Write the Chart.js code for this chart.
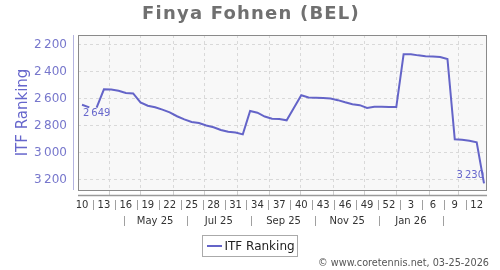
<!DOCTYPE html>
<html>
<head>
<meta charset="utf-8">
<script src="https://cdn.jsdelivr.net/npm/chart.js@4.4.1/dist/chart.umd.min.js"></script>
<style>
  html, body { margin: 0; padding: 0; background: #fff; }
  #wrap { width: 500px; height: 270px; }
</style>
</head>
<body>
<div id="wrap"><canvas id="rankChart" width="500" height="270"></canvas></div>
<script>
// ISO weeks, week 10 of 2025 to week 13 of 2026
const weeks = [10, 11, 12, 13, 14, 15, 16, 17, 18, 19, 20, 21, 22, 23, 24, 25, 26, 27, 28, 29,
  30, 31, 32, 33, 34, 35, 36, 37, 38, 39, 40, 41, 42, 43, 44, 45, 46, 47, 48, 49, 50, 51, 52,
  1, 2, 3, 4, 5, 6, 7, 8, 9, 10, 11, 12, 13];

const ranking = [2649, 2668, 2671, 2535, 2537, 2545, 2562, 2565, 2632, 2656,
  2668, 2685, 2705, 2734, 2757, 2776, 2784, 2802, 2815, 2835,
  2848, 2854, 2868, 2695, 2708, 2736, 2752, 2754, 2764, 2672,
  2579, 2595, 2598, 2600, 2603, 2615, 2631, 2645, 2652, 2672,
  2664, 2664, 2666, 2666, 2276, 2276, 2284, 2290, 2293, 2296,
  2311, 2904, 2908, 2915, 2926, 3230];

// line is broken after these points (no ranking in between)
const gapAfter = [1];

const yTicks = [2200, 2400, 2600, 2800, 3000, 3200];
const weekLabelStep = 3;

// month axis: grid on the 1st of each month, labels every two months
const monthGrid = [[2025, 4], [2025, 5], [2025, 6], [2025, 7], [2025, 8], [2025, 9],
  [2025, 10], [2025, 11], [2025, 12], [2026, 1], [2026, 2], [2026, 3]];
const monthLabels = ['May 25', 'Jul 25', 'Sep 25', 'Nov 25', 'Jan 26'];
const monthLabelAt = [[2025, 5], [2025, 7], [2025, 9], [2025, 11], [2026, 1]];
const monthSepAt = [[2025, 4], [2025, 6], [2025, 8], [2025, 10], [2025, 12], [2026, 2]];

const playerName = 'Finya Fohnen (BEL)';
const seriesName = 'ITF Ranking';
const footer = '\u00a9 www.coretennis.net, 03-25-2026';

const lineColor = '#6464c8';
const firstDate = Date.UTC(2025, 2, 6); // thursday of week 10
const toIdx = (y, m, d) => (Date.UTC(y, m - 1, d) - firstDate) / 6048e5;
const fmt = v => String(v).replace(/\B(?=(\d{3})+(?!\d))/g, '\u2009');

function vline(ctx, x, y1, y2) {
  ctx.beginPath(); ctx.moveTo(x, y1); ctx.lineTo(x, y2); ctx.stroke();
}
function hline(ctx, x1, x2, y) {
  ctx.beginPath(); ctx.moveTo(x1, y); ctx.lineTo(x2, y); ctx.stroke();
}

const decor = {
  id: 'decor',
  beforeDatasetsDraw(chart) {
    const { ctx, chartArea: a, scales: { x, y } } = chart;
    ctx.save();
    ctx.fillStyle = '#f8f8f8';
    ctx.fillRect(a.left, a.top, a.right - a.left, a.bottom - a.top);

    // dashed grid
    ctx.strokeStyle = '#d9d9d9';
    ctx.lineWidth = 1;
    ctx.setLineDash([3, 3]);
    yTicks.forEach(v => {
      const py = Math.round(y.getPixelForValue(v)) + 0.5;
      hline(ctx, a.left, a.right, py);
    });
    monthGrid.forEach(([yy, mm]) => {
      const px = Math.round(x.getPixelForValue(toIdx(yy, mm, 1))) + 0.5;
      vline(ctx, px, a.top, a.bottom);
    });
    ctx.setLineDash([]);
    ctx.strokeStyle = '#cfcfcf';
    monthGrid.forEach(([yy, mm]) => {
      const px = Math.round(x.getPixelForValue(toIdx(yy, mm, 1))) + 0.5;
      vline(ctx, px, a.bottom, a.bottom + 5);
    });

    // frame
    ctx.strokeStyle = '#8a8a8a';
    ctx.strokeRect(a.left + 0.5, a.top + 0.5, a.right - a.left - 1, a.bottom - a.top);

    // y axis line
    ctx.strokeStyle = '#b4b4e0';
    vline(ctx, a.left - 4.5, a.top, a.bottom);

    // x axis line
    ctx.strokeStyle = '#9a9a9a';
    ctx.lineWidth = 1.5;
    hline(ctx, a.left, a.right, a.bottom + 5.5);
    ctx.restore();
  },
  afterDatasetsDraw(chart) {
    const { ctx, chartArea: a, scales: { x, y } } = chart;
    ctx.save();

    // title
    ctx.fillStyle = '#707070';
    ctx.font = 'bold 18px "DejaVu Sans"';
    ctx.letterSpacing = '1.2px';
    ctx.textAlign = 'center';
    ctx.textBaseline = 'alphabetic';
    ctx.fillText(playerName, 251, 19);
    ctx.letterSpacing = '0px';

    // y axis title
    ctx.save();
    ctx.translate(26.5, (a.top + a.bottom) / 2);
    ctx.rotate(-Math.PI / 2);
    ctx.fillStyle = '#6666cc';
    ctx.font = '15px "DejaVu Sans"';
    ctx.fillText(seriesName, 0, 0);
    ctx.restore();

    // y tick labels
    ctx.fillStyle = '#7777cc';
    ctx.font = '12px "DejaVu Sans"';
    ctx.textAlign = 'right';
    ctx.textBaseline = 'middle';
    yTicks.forEach(v => ctx.fillText(fmt(v), 67, y.getPixelForValue(v) + 0.5));

    // week labels
    ctx.fillStyle = '#333';
    ctx.font = '10px "DejaVu Sans"';
    ctx.textAlign = 'center';
    ctx.strokeStyle = '#a0a0a0';
    ctx.lineWidth = 1;
    for (let i = 0; i < weeks.length; i += weekLabelStep) {
      ctx.fillText(String(weeks[i]), x.getPixelForValue(i), 205);
      if (i + weekLabelStep < weeks.length) {
        const sx = Math.round(x.getPixelForValue(i + weekLabelStep / 2)) + 0.5;
        vline(ctx, sx, 200, 210);
      }
    }

    // month labels
    monthLabels.forEach((t, k) => {
      const [yy, mm] = monthLabelAt[k];
      ctx.fillText(t, x.getPixelForValue(toIdx(yy, mm, 15)), 221.5);
    });
    monthSepAt.forEach(([yy, mm]) => {
      const sx = Math.round(x.getPixelForValue(toIdx(yy, mm, 15))) + 0.5;
      vline(ctx, sx, 216, 226);
    });

    // point labels on first and last value
    const pts = chart.getDatasetMeta(0).data;
    const last = ranking.length - 1;
    ctx.fillStyle = '#6666cc';
    ctx.font = '10px "DejaVu Sans"';
    ctx.textAlign = 'left';
    ctx.fillText(fmt(ranking[0]), pts[0].x + 1, pts[0].y + 9);
    ctx.textAlign = 'right';
    ctx.fillText(fmt(ranking[last]), pts[last].x, pts[last].y - 8);

    // legend
    ctx.fillStyle = '#fff';
    ctx.fillRect(202.5, 235.5, 95, 21);
    ctx.strokeStyle = '#aaa';
    ctx.strokeRect(202.5, 235.5, 95, 21);
    ctx.strokeStyle = lineColor;
    ctx.lineWidth = 2;
    hline(ctx, 207, 222, 246);
    ctx.fillStyle = '#222';
    ctx.font = '12px "DejaVu Sans"';
    ctx.textAlign = 'left';
    ctx.fillText(seriesName, 224.5, 246.5);

    // footer
    ctx.fillStyle = '#555';
    ctx.font = '9.7px "DejaVu Sans"';
    ctx.textAlign = 'right';
    ctx.fillText(footer, 489, 263.5);
    ctx.restore();
  }
};

const ctx = document.getElementById('rankChart').getContext('2d');
new Chart(ctx, {
  type: 'line',
  data: {
    datasets: [{
      label: seriesName,
      data: ranking.map((v, i) => ({ x: i, y: v })),
      borderColor: lineColor,
      borderWidth: 2,
      pointRadius: 0,
      tension: 0,
      fill: false,
      clip: false,
      segment: {
        borderColor: c => gapAfter.includes(c.p0DataIndex) ? 'rgba(0,0,0,0)' : undefined
      }
    }]
  },
  options: {
    responsive: false,
    animation: false,
    layout: { padding: { left: 78, right: 13, top: 35, bottom: 80 } },
    scales: {
      x: { type: 'linear', display: false, min: -0.547, max: 55.41 },
      y: { type: 'linear', display: false, reverse: true, min: 2133.5, max: 3279 }
    },
    plugins: {
      legend: { display: false },
      title: { display: false },
      tooltip: { enabled: false }
    }
  },
  plugins: [decor]
});
</script>
</body>
</html>
